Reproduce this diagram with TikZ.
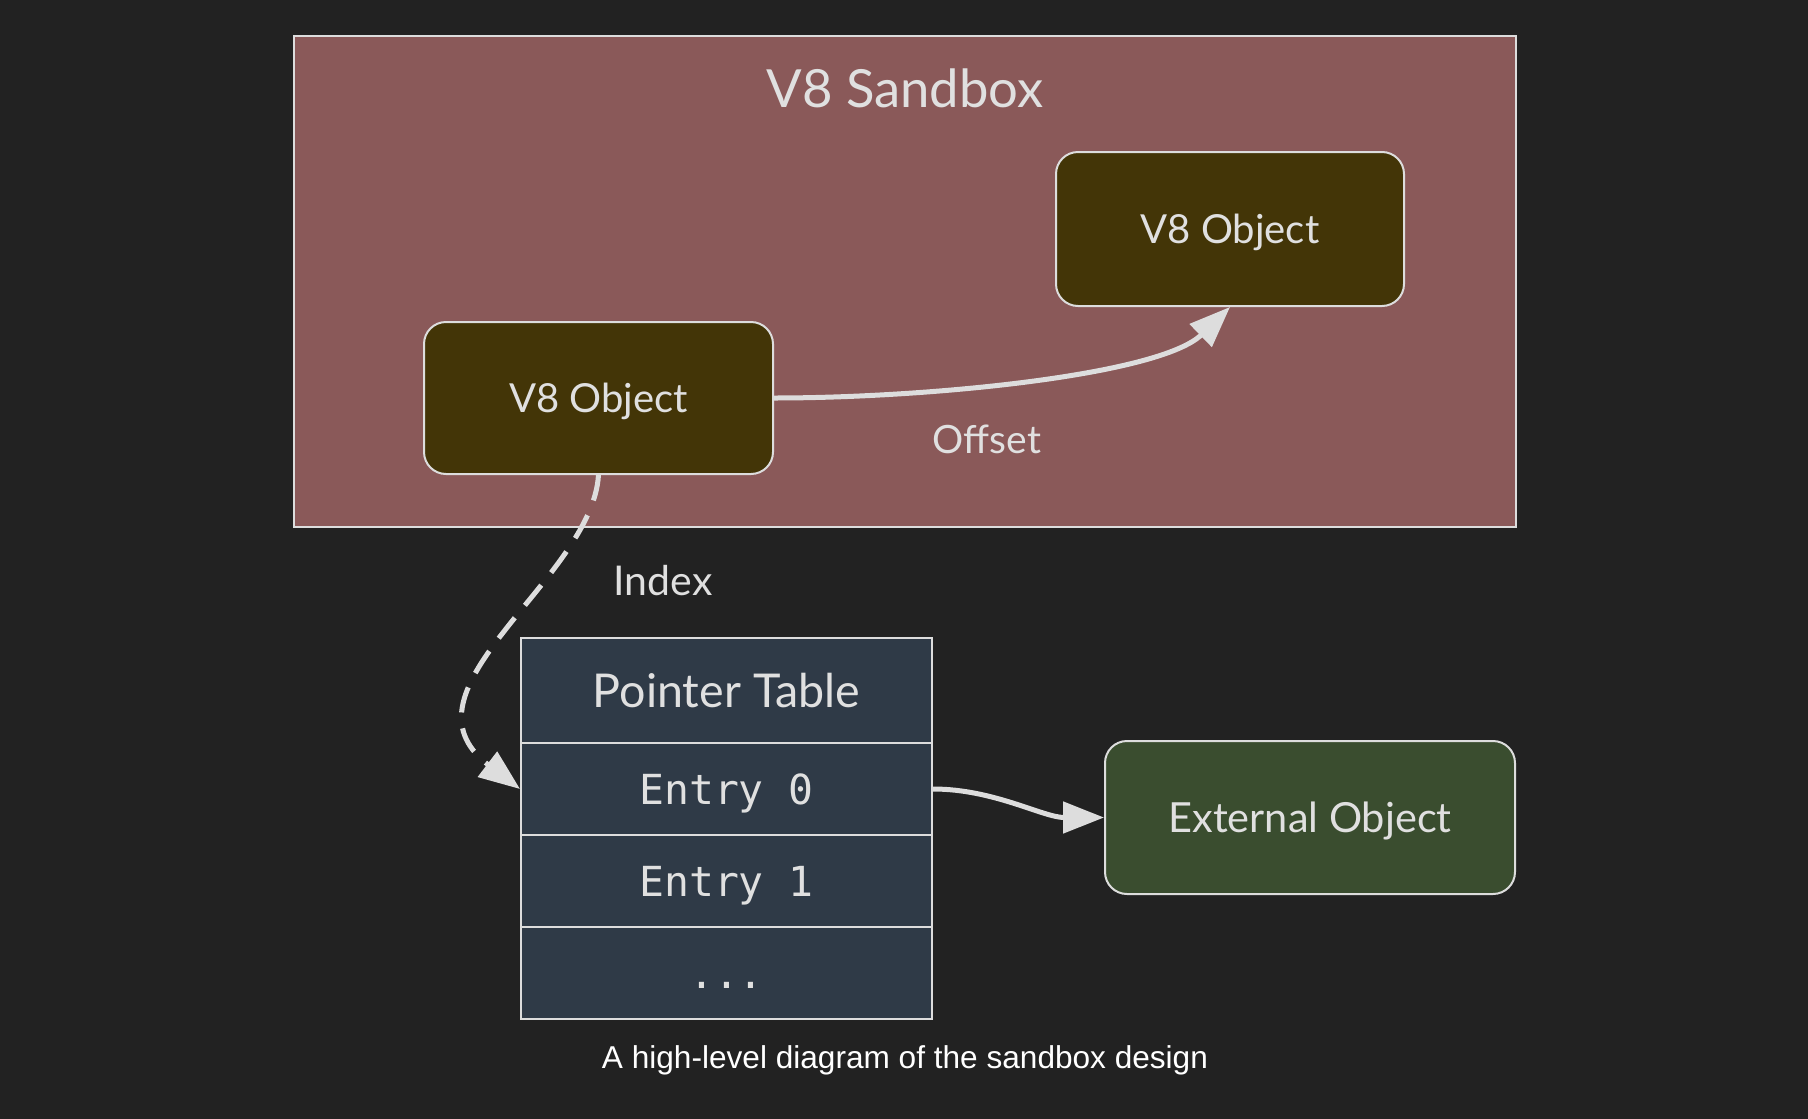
\documentclass[tikz,border=0pt]{standalone}
\usepackage{fontspec}
\setmainfont{Lato}
\newfontfamily\monofont{DejaVu Sans Mono}
\newfontfamily\capfont{Liberation Sans}
\usetikzlibrary{arrows.meta}
\definecolor{bgc}{HTML}{222222}
\definecolor{sandc}{HTML}{8A5959}
\definecolor{objc}{HTML}{433507}
\definecolor{tabc}{HTML}{2F3A47}
\definecolor{extc}{HTML}{3A4D2F}
\definecolor{linec}{HTML}{DDDDDD}
\definecolor{txtc}{HTML}{E0E0E0}
\begin{document}
\begin{tikzpicture}[x=1pt,y=-1pt,
  capc/.style={text height=#1, text depth=0pt},
  objbox/.style={draw=linec, line width=2pt, rounded corners=22pt, text=txtc, inner sep=0pt},
  cell/.style={draw=linec, line width=2pt, fill=tabc, text=txtc, minimum width=411pt, inner sep=0pt},
  monocell/.style={cell, minimum height=92pt, capc=30.2pt, font=\monofont\fontsize{41.4}{48}\selectfont},
  lbl/.style={text=txtc, inner sep=0pt},
  conn/.style={draw=linec, line width=5pt, -{Triangle[length=41pt,width=31pt]}},
]
\fill[bgc] (0,0) rectangle (1808,1119);
\useasboundingbox (0,0) rectangle (1808,1119);
% sandbox
\draw[linec, line width=2pt, fill=sandc] (294,36) rectangle (1516,527);
\node[lbl, capc=37.7pt, font=\fontsize{52.6}{60}\selectfont] (title) at (905,89) {V8 Sandbox};
% objects
\node[objbox, fill=objc, minimum width=349pt, minimum height=152pt, capc=28.7pt, font=\fontsize{40}{46}\selectfont] (o1) at (598.5,398) {V8 Object};
\node[objbox, fill=objc, minimum width=348pt, minimum height=154pt, capc=28.7pt, font=\fontsize{40}{46}\selectfont] (o2) at (1230,229) {V8 Object};
% pointer table
\node[cell, minimum height=105pt, capc=33.4pt, font=\fontsize{46.6}{54}\selectfont] (hdr) at (726.5,690.5) {Pointer Table};
\node[monocell] (e0) at (726.5,789) {Entry 0};
\node[monocell] (e1) at (726.5,881) {Entry 1};
\node[monocell] (e2) at (726.5,973) {...};
% external
\node[objbox, fill=extc, minimum width=410pt, minimum height=153pt, capc=29.7pt, font=\fontsize{41.5}{48}\selectfont] (ext) at (1310,817.5) {External Object};
% connectors
\draw[conn] (o1.east) .. controls (930,398) and (1160,375) .. (o2.south);
\draw[conn, dash pattern=on 26pt off 16pt] (o1.south) .. controls (592,580) and (390,690) .. (e0.west);
\draw[conn] (e0.east) to[out=0, in=180, looseness=0.9] (ext.west);
% labels
\node[lbl, capc=28pt, font=\fontsize{39}{46}\selectfont] (offset) at (987,439) {Offset};
\node[lbl, capc=29.4pt, font=\fontsize{41}{48}\selectfont] (index) at (663,581) {Index};
\node[text=white, capc=22.6pt, inner sep=0pt, font=\capfont\fontsize{31.6}{38}\selectfont] (cap) at (905,1057) {A high-level diagram of the sandbox design};
\end{tikzpicture}
\end{document}
